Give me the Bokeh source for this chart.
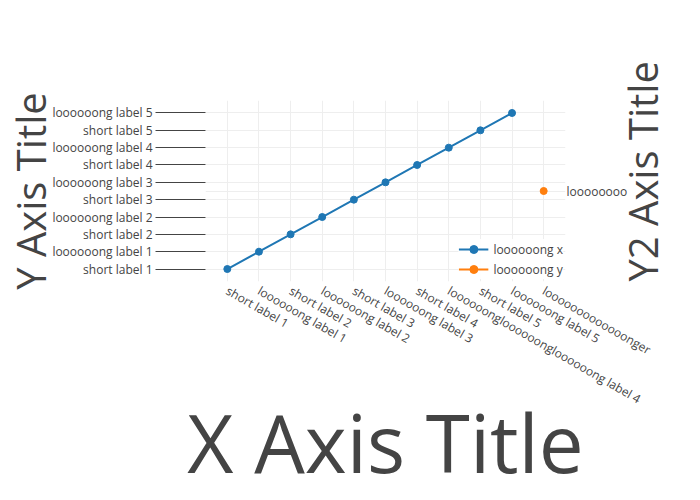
import math
from bokeh.plotting import figure
from bokeh.models import (FactorRange, CategoricalAxis, Legend, LegendItem,
                          Grid, ColumnDataSource)
from bokeh.embed import file_html
from bokeh.resources import INLINE

# ---- data ----
x_labels = ["short label 1", "loooooong label 1", "short label 2", "loooooong label 2",
            "short label 3", "loooooong label 3", "short label 4",
            "loooooongloooooongloooooong label 4", "short label 5",
            "loooooong label 5", "looooooooooooonger"]
y_labels = ["short label 1", "loooooong label 1", "short label 2", "loooooong label 2",
            "short label 3", "loooooong label 3", "short label 4", "loooooong label 4",
            "short label 5", "loooooong label 5"]
y2_labels = ["loooooooo"]

trace_x_x = x_labels[:10]
trace_x_y = y_labels
trace_y_x = [x_labels[10]]
trace_y_y = y2_labels

name_x = "loooooong x"
name_y = "loooooong y"

x_title = "X Axis Title"
y_title = "Y Axis Title"
y2_title = "Y2 Axis Title"

FONT = "Open Sans"
TXT = "#444444"
GRID = "#eeeeee"
BLUE = "#1f77b4"
ORANGE = "#ff7f0e"

p = figure(width=700, height=500, output_backend="svg", toolbar_location=None,
           x_range=FactorRange(factors=x_labels, range_padding=0.19,
                               range_padding_units="absolute"),
           y_range=FactorRange(factors=y_labels, range_padding=0.22,
                               range_padding_units="absolute"),
           min_border_left=205, min_border_right=135,
           min_border_top=100, min_border_bottom=219)
p.outline_line_color = None
p.background_fill_color = "white"

p.extra_y_ranges = {"y2": FactorRange(factors=y2_labels)}

# axes
for ax in p.yaxis:
    ax.axis_line_color = None
    ax.major_tick_out = 50
    ax.major_tick_in = 0
    ax.major_tick_line_color = TXT
    ax.major_label_standoff = 3
    ax.major_label_text_font_size = "12px"
    ax.major_label_text_font = FONT
    ax.major_label_text_color = TXT
    ax.axis_label = y_title
    ax.axis_label_standoff = -9
    ax.axis_label_text_font_size = "40px"
    ax.axis_label_text_font = FONT
    ax.axis_label_text_font_style = "normal"
    ax.axis_label_text_color = TXT

for ax in p.xaxis:
    ax.axis_line_color = None
    ax.major_tick_line_color = None
    ax.major_tick_out = 0
    ax.major_tick_in = 0
    ax.major_label_standoff = 8
    ax.major_label_orientation = -math.pi / 6
    ax.major_label_text_font_size = "12px"
    ax.major_label_text_font = FONT
    ax.major_label_text_color = TXT
    ax.axis_label = x_title
    ax.axis_label_standoff = -30
    ax.axis_label_text_font_size = "80px"
    ax.axis_label_text_font = FONT
    ax.axis_label_text_font_style = "normal"
    ax.axis_label_text_color = TXT

ax2 = CategoricalAxis(y_range_name="y2", axis_line_color=None,
                      major_tick_line_color=None, major_tick_out=0, major_tick_in=0,
                      major_label_standoff=1, major_label_text_font_size="12px",
                      major_label_text_font=FONT, major_label_text_color=TXT,
                      axis_label=y2_title, axis_label_standoff=12,
                      axis_label_text_font_size="40px", axis_label_text_font=FONT,
                      axis_label_text_font_style="normal", axis_label_text_color=TXT)
props2 = ax2.properties()
if "axis_label_orientation" in props2:
    ax2.axis_label_orientation = math.pi / 2
if "axis_label_align" in props2:
    ax2.axis_label_align = "start"
p.add_layout(ax2, "right")

p.xgrid.grid_line_color = GRID
p.ygrid.grid_line_color = GRID
p.add_layout(Grid(dimension=1, ticker=ax2.ticker, y_range_name="y2",
                  grid_line_color=GRID))

# traces
src_x = ColumnDataSource(dict(x=trace_x_x, y=trace_x_y))
l1 = p.line("x", "y", source=src_x, line_color=BLUE, line_width=2)
c1 = p.scatter("x", "y", source=src_x, size=7, fill_color=BLUE, line_color=BLUE)

src_y = ColumnDataSource(dict(x=trace_y_x, y=trace_y_y))
l2 = p.line("x", "y", source=src_y, line_color=ORANGE, line_width=2, y_range_name="y2")
c2 = p.scatter("x", "y", source=src_y, size=7, fill_color=ORANGE, line_color=ORANGE,
               y_range_name="y2")

legend = Legend(items=[LegendItem(label=name_x, renderers=[l1, c1]),
                       LegendItem(label=name_y, renderers=[l2, c2])],
                location="bottom_right", border_line_color=None,
                background_fill_color="white", background_fill_alpha=0.9,
                padding=2, margin=2, spacing=0,
                glyph_width=30, glyph_height=20, label_height=20,
                label_standoff=5, label_text_font_size="12px",
                label_text_font=FONT, label_text_color=TXT)
p.add_layout(legend)

open("out.html", "w").write(file_html(p, INLINE))
